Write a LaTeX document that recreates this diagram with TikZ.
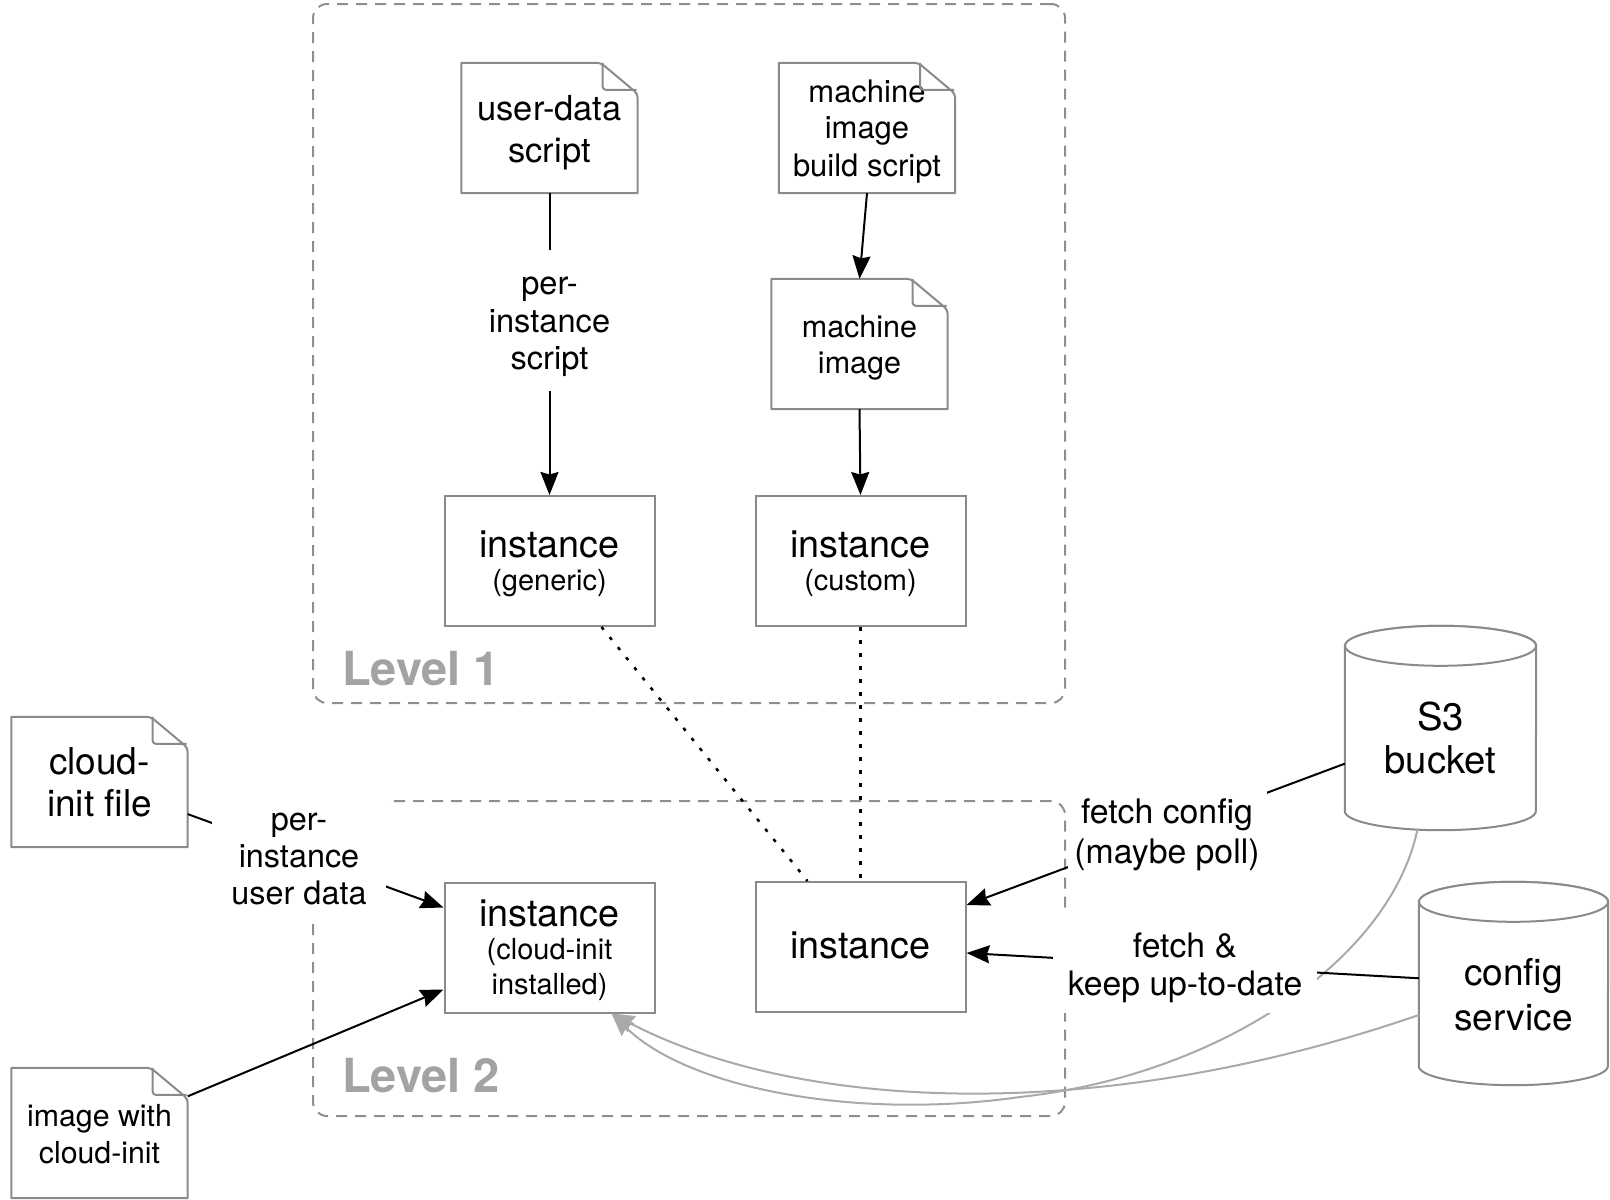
\documentclass[tikz,border=0pt]{standalone}
\usepackage{fontspec}
\setmainfont{TeX Gyre Heros}
\usetikzlibrary{arrows.meta,calc}

\definecolor{boxgrey}{HTML}{8A8A8A}
\definecolor{dashgrey}{HTML}{8E8E8E}
\definecolor{lvlgrey}{HTML}{A3A3A3}
\definecolor{curvegrey}{HTML}{A9A9A9}

\newcommand{\fs}[2]{\fontsize{#1}{#2}\selectfont}
% line strut: keeps every text block centred on its line boxes
\newcommand{\lstrut}{\vrule width 0pt height 0.83\baselineskip depth 0.17\baselineskip\relax}

\begin{document}
\begin{tikzpicture}[x=1pt,y=-1pt,
  lvlbox/.style={draw=dashgrey, line width=2pt, dash pattern=on 11pt off 8pt,
                 rounded corners=14pt, inner sep=0},
  lvltext/.style={anchor=base west, text=lvlgrey, font=\fs{47}{52}\bfseries, inner sep=0},
  instbox/.style={draw=boxgrey, line width=2pt, fill=white, align=center, inner sep=0,
                  minimum width=210, minimum height=130},
  insttext/.style={align=center, inner sep=0, font=\fs{29}{33.5}},
  docnode/.style={rectangle, inner sep=0, align=center, minimum width=176, minimum height=130},
  docline/.style={draw=boxgrey, line width=2pt, line join=round},
  cylnode/.style={rectangle, inner sep=0, align=center},
  cylline/.style={draw=boxgrey, line width=2pt, fill=white},
  conn/.style={draw=black, line width=2pt,
               -{Stealth[length=23pt,width=18pt,inset=2.5pt]}},
  dots/.style={draw=black, line width=2.5pt, dash pattern=on 3.5pt off 9.5pt},
  greyconn/.style={draw=curvegrey, line width=2pt,
               -{Stealth[length=23pt,width=18pt,inset=2.5pt,fill=curvegrey]}},
  lbl/.style={fill=white, inner sep=0, align=center}
]
\useasboundingbox (0,0) rectangle (1610,1200);

% grouping frames
\node[lvlbox, minimum width=752, minimum height=699] (lvl1) at (689,353.5) {};
\node[lvlbox, minimum width=752, minimum height=315] (lvl2) at (689,958.5) {};
\node[lvltext] (lvl1t) at (342,685) {Level 1};
\node[lvltext] (lvl2t) at (342,1092) {Level 2};

% documents
\node[docnode, font=\fs{34.5}{42}] (ud) at (549.5,128) {\lstrut user-data\\script\lstrut};
\node[docnode, font=\fs{31}{36}] (mbs) at (867,128) {\lstrut machine\\image\\build script\lstrut};
\node[docnode, font=\fs{30.5}{36}] (mi) at (859.5,344) {\lstrut machine\\image\lstrut};
\node[docnode, font=\fs{37}{42}] (cf) at (99.5,782) {\lstrut cloud-\\init file\lstrut};
\node[docnode, font=\fs{30.3}{36}] (ic) at (99.5,1133) {\lstrut image with\\cloud-init\lstrut};
\foreach \n in {ud,mbs,mi,cf,ic} {
  \draw[docline] (\n.south west) -- (\n.north west)
     [rounded corners=4pt] -- ([xshift=-37pt]\n.north east)
     -- ([yshift=-31pt]\n.north east) [sharp corners] -- (\n.south east) -- cycle;
  \draw[docline, rounded corners=3pt] ([xshift=-35pt]\n.north east)
     |- ([yshift=-27pt,xshift=-1pt]\n.north east);
}

% instances
\node[instbox, label={[insttext, yshift=-2pt]center:{\fs{37.8}{33.5}\lstrut instance}\\(generic)\lstrut}]
   (gen) at (549.5,561) {};
\node[instbox, label={[insttext, yshift=-2pt]center:{\fs{37.8}{33.5}\lstrut instance}\\(custom)\lstrut}]
   (cus) at (860.5,561) {};
\node[instbox, label={[insttext, yshift=-2pt]center:{\fs{37.8}{33.5}\lstrut instance}\\(cloud-init\\installed)\lstrut}]
   (inst3) at (549.5,947.5) {};
\node[instbox, font=\fs{37.8}{34}] (inst) at (860.5,947) {\lstrut instance};

% storage
\node[cylnode, minimum width=191, minimum height=204] (s3) at (1440.5,728) {};
\draw[cylline] ([yshift=-20pt]s3.north west) -- ([yshift=19pt]s3.south west)
   arc[start angle=180, end angle=360, x radius=95.5pt, y radius=19pt]
   -- ([yshift=-20pt]s3.north east)
   arc[start angle=0, end angle=180, x radius=95.5pt, y radius=20pt] -- cycle;
\draw[cylline] ([yshift=-20pt]s3.north) ellipse[x radius=95.5pt, y radius=20pt];
\node[font=\fs{38.3}{43}, align=center, inner sep=0] (s3t) at (1440.5,738) {\lstrut S3\\bucket\lstrut};

\node[cylnode, minimum width=189, minimum height=203] (cs) at (1513.5,983.5) {};
\draw[cylline] ([yshift=-20pt]cs.north west) -- ([yshift=19pt]cs.south west)
   arc[start angle=180, end angle=360, x radius=94.5pt, y radius=19pt]
   -- ([yshift=-20pt]cs.north east)
   arc[start angle=0, end angle=180, x radius=94.5pt, y radius=20pt] -- cycle;
\draw[cylline] ([yshift=-20pt]cs.north) ellipse[x radius=94.5pt, y radius=20pt];
\node[font=\fs{37}{43}, align=center, inner sep=0] (cst) at (1513.5,994) {\lstrut config\\service\lstrut};

% grey feeds into the cloud-init instance
\draw[greyconn] ($(cs.west)+(0,31.5)$) .. controls (1100,1125) and (800,1112) .. ($(inst3.south)+(62,0)$);
\draw[greyconn] ($(s3.south)+(-23,-1)$) .. controls (1390,960) and (1220,1075) .. (1020,1097)
   .. controls (860,1120) and (690,1090) .. ($(inst3.south)+(62,0)$);

% level 1 flows
\draw[conn] (ud.south) -- (gen.north);
\draw[conn] (mbs.south) -- (mi.north);
\draw[conn] (mi.south) -- (cus.north);
\draw[dots] ($(gen.south)+(52,0)$) -- ($(inst.north)+(-53,0)$);
\draw[dots] (cus.south) -- (inst.north);

% level 2 flows
\draw[conn] (cf) -- ($(inst3.west)+(0,-40)$);
\draw[conn] (ic) -- ($(inst3.west)+(0,42)$);
\draw[conn] (s3) -- ($(inst.east)+(0,-42)$);
\draw[conn] (cs) -- ($(inst.east)+(0,6)$);

% edge labels
\node[lbl, minimum width=130, minimum height=141, font=\fs{32.6}{37.5}] (l1) at (549.5,320) {\lstrut per-\\instance\\script\lstrut};
\node[lbl, minimum width=174, minimum height=130, font=\fs{32.4}{37}] (l2) at (299,855) {\lstrut per-\\instance\\user data\lstrut};
\node[lbl, minimum width=199, minimum height=90, font=\fs{33.8}{38}] (l3) at (1167,831) {\lstrut fetch config\\(maybe poll)\lstrut};
\node[lbl, minimum width=264, minimum height=98, font=\fs{33.7}{38}] (l4) at (1185,964) {\lstrut fetch \&\\keep up-to-date\lstrut};
\end{tikzpicture}
\end{document}
